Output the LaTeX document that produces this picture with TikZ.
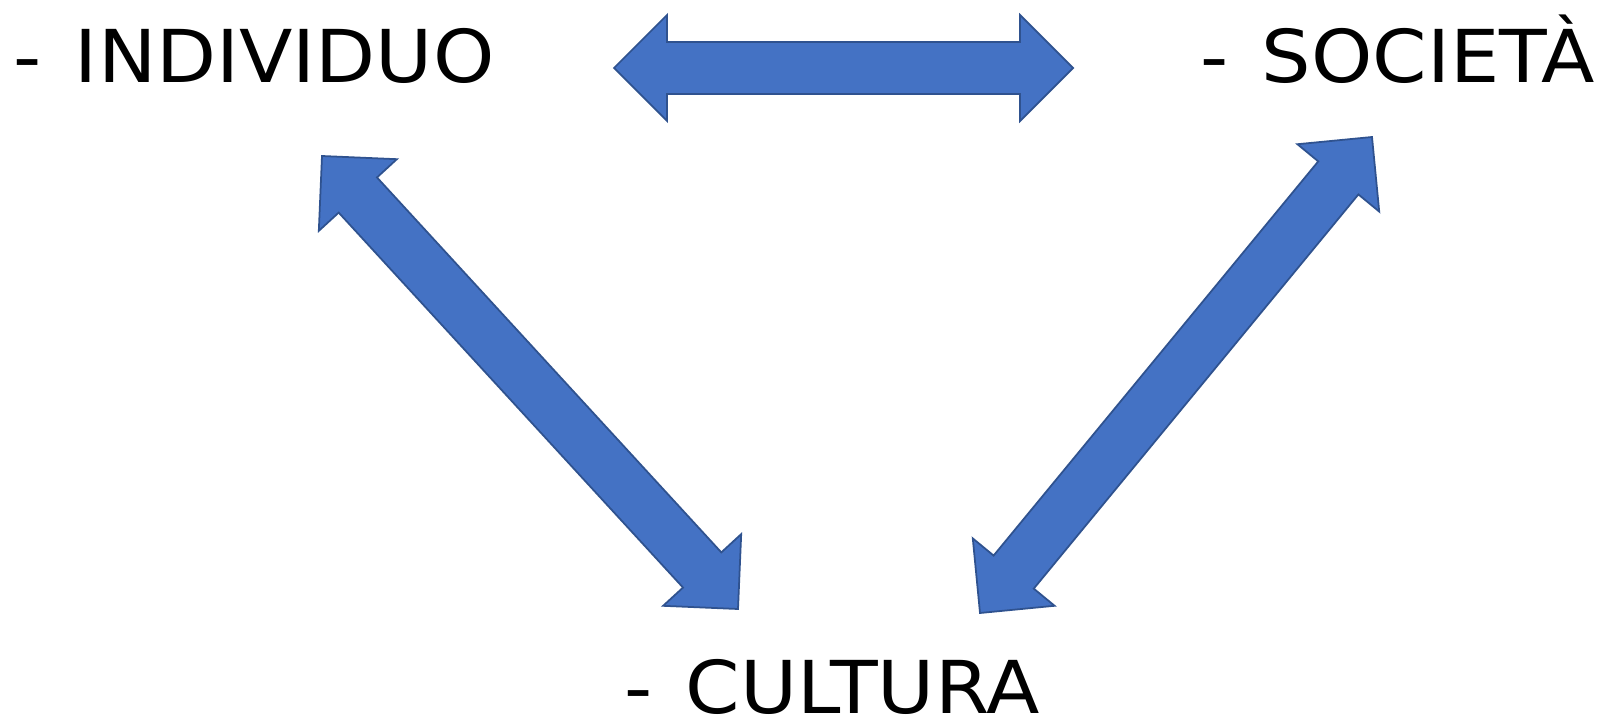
\documentclass[tikz,border=0pt]{standalone}
\usepackage{fontspec}
\setmainfont{DejaVu Sans}[FakeStretch=1.07, WordSpace=1.35]
\usetikzlibrary{calc}
\definecolor{arrowblue}{HTML}{4472C4}
\definecolor{arrowline}{HTML}{2F528F}
\newcommand{\headlen}{1.06cm}
\newcommand{\headhalf}{1.06cm}
\newcommand{\shafthalf}{0.52cm}
\newcommand{\dblarrow}[2]{%
  \coordinate (#1#2a) at ($(#1)!\headlen!(#2)$);
  \coordinate (#1#2b) at ($(#2)!\headlen!(#1)$);
  \draw [blockarrow] (#1) -- ($(#1#2a)!\headhalf!90:(#2)$) -- ($(#1#2a)!\shafthalf!90:(#2)$)
    -- ($(#1#2b)!\shafthalf!-90:(#1)$) -- ($(#1#2b)!\headhalf!-90:(#1)$) -- (#2)
    -- ($(#1#2b)!\headhalf!90:(#1)$) -- ($(#1#2b)!\shafthalf!90:(#1)$)
    -- ($(#1#2a)!\shafthalf!-90:(#2)$) -- ($(#1#2a)!\headhalf!-90:(#2)$) -- cycle;
}

\begin{document}
\begin{tikzpicture}[x=0.02cm, y=-0.02cm,
    term/.style={inner sep=0, anchor=base west, font=\fontsize{41.5}{50}\selectfont},
    blockarrow/.style={fill=arrowblue, draw=arrowline, line width=1pt, line join=miter}]
        \useasboundingbox [fill=white] (0,0) rectangle (1606,723);
        \node at (13,83) [term] (i100) {- INDIVIDUO};
        \node at (1200,83) [term] (s100) {- SOCIETÀ};
        \node at (624,713) [term] (c100) {- CULTURA};
        \coordinate (i1) at (614,68);
        \coordinate (s1) at (1073,68);
        \coordinate (i2) at (322,156);
        \coordinate (c2) at (738,609);
        \coordinate (s3) at (1372,137);
        \coordinate (c3) at (980,613);
        \dblarrow{i1}{s1}
        \dblarrow{i2}{c2}
        \dblarrow{s3}{c3}
    \end{tikzpicture}
\end{document}
